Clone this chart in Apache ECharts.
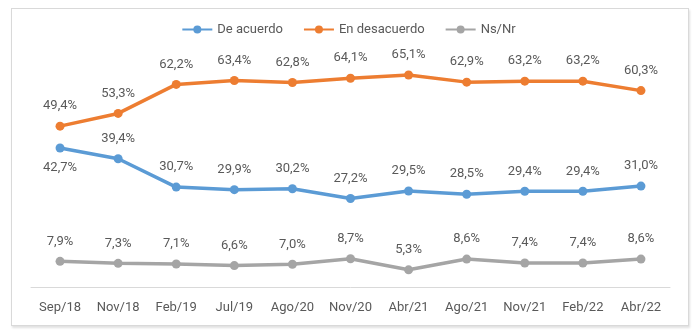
<!DOCTYPE html>
<html>
<head>
<meta charset="utf-8">
<script src="https://cdn.jsdelivr.net/npm/echarts@6/dist/echarts.min.js"></script>
<style>
  html, body { margin: 0; padding: 0; background: #fff; }
  #frame {
    position: absolute; left: 11px; top: 8px; width: 676px; height: 316px;
    border: 1px solid #d9d9d9; box-shadow: 1px 2px 2px rgba(0,0,0,0.12);
    background: #fff;
  }
  #chart { position: absolute; left: 0; top: 0; width: 697px; height: 330px; }
</style>
</head>
<body>
<div id="frame"></div>
<div id="chart"></div>
<script>
const categories = ['Sep/18', 'Nov/18', 'Feb/19', 'Jul/19', 'Ago/20', 'Nov/20', 'Abr/21', 'Ago/21', 'Nov/21', 'Feb/22', 'Abr/22'];
const deAcuerdo = [42.7, 39.4, 30.7, 29.9, 30.2, 27.2, 29.5, 28.5, 29.4, 29.4, 31.0];
const enDesacuerdo = [49.4, 53.3, 62.2, 63.4, 62.8, 64.1, 65.1, 62.9, 63.2, 63.2, 60.3];
const nsNr = [7.9, 7.3, 7.1, 6.6, 7.0, 8.7, 5.3, 8.6, 7.4, 7.4, 8.6];

const fontFamily = 'Roboto, "Liberation Sans", sans-serif';
const fmt = v => v.toFixed(1).replace('.', ',') + '%';

function series(name, values, color, belowIdx) {
  return {
    name, type: 'line', data: values.map((v, i) => ({
      value: v,
      label: belowIdx && belowIdx.includes(i) ? { position: 'bottom', distance: 9 } : undefined
    })),
    symbol: 'circle', symbolSize: 9,
    lineStyle: { color, width: 3.5 },
    itemStyle: { color },
    label: {
      show: true, position: 'top', distance: 9,
      color: '#595959', fontSize: 13, fontFamily,
      formatter: p => fmt(p.value)
    }
  };
}

const chart = echarts.init(document.getElementById('chart'), null, { renderer: 'canvas' });
chart.setOption({
  animation: false,
  legend: {
    top: 18, left: 'center', itemGap: 20, itemWidth: 30, itemHeight: 10,
    textStyle: { color: '#595959', fontSize: 13, fontFamily },
    data: ['De acuerdo', 'En desacuerdo', 'Ns/Nr']
  },
  grid: { left: 31, right: 27, top: 59, bottom: 38 },
  xAxis: {
    type: 'category', data: categories, boundaryGap: true,
    axisLine: { lineStyle: { color: '#d9d9d9', width: 1 } },
    axisTick: { show: false },
    axisLabel: { color: '#595959', fontSize: 13, fontFamily, margin: 9, interval: 0 }
  },
  yAxis: {
    type: 'value', min: -1.5, max: 70, show: false,
    splitLine: { show: false }
  },
  series: [
    series('De acuerdo', deAcuerdo, '#5B9BD5', [0]),
    series('En desacuerdo', enDesacuerdo, '#ED7D31'),
    series('Ns/Nr', nsNr, '#A5A5A5')
  ]
});
</script>
</body>
</html>
